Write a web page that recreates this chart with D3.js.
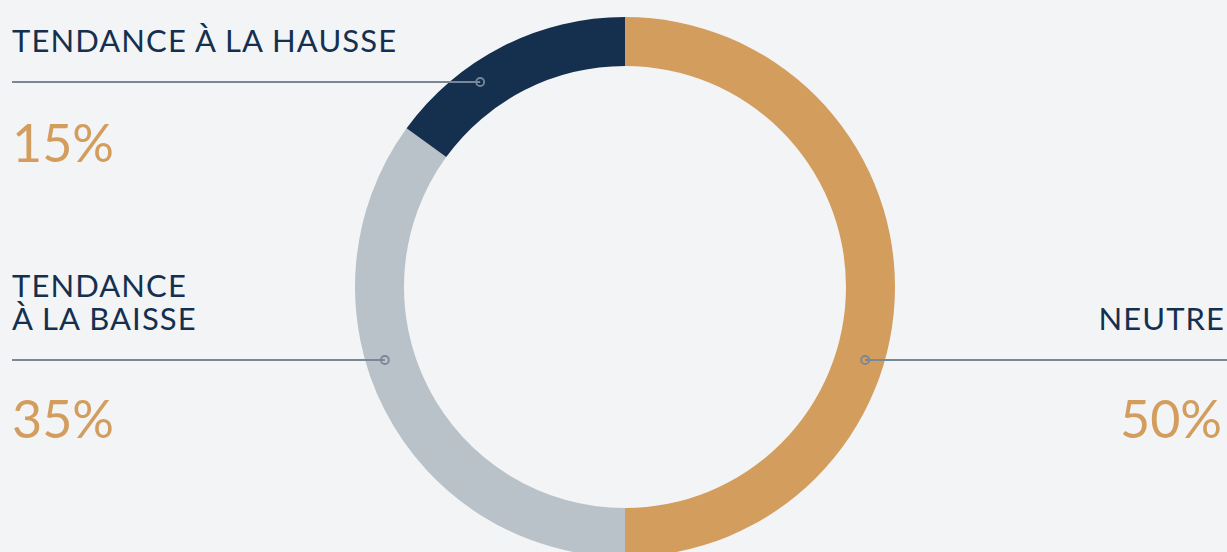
<!DOCTYPE html>
<html>
<head>
<meta charset="utf-8">
<script src="https://cdn.jsdelivr.net/npm/d3@7"></script>
<style>
  html, body { margin: 0; padding: 0; background: #f3f4f6; }
  svg { display: block; }
</style>
</head>
<body>
<div id="chart"></div>
<script>
// data
let categories = ["NEUTRE", "TENDANCE À LA BAISSE", "TENDANCE À LA HAUSSE"]
let values     = [50, 35, 15]
let colors     = ["#d39d5e", "#bac2c9", "#152f4e"]
let labelLines = [["NEUTRE"], ["TENDANCE", "À LA BAISSE"], ["TENDANCE À LA HAUSSE"]]

let width = 1227
let height = 552
let cx = 625, cy = 287
let outerR = 270, innerR = 221

let svg = d3.select("#chart").append("svg")
    .attr("width", width).attr("height", height)

svg.append("rect").attr("width", width).attr("height", height).attr("fill", "#f3f4f6")

let pie = d3.pie().sort(null).value(d => d)
let arc = d3.arc().innerRadius(innerR).outerRadius(outerR)

let g = svg.append("g").attr("transform", "translate(" + cx + "," + cy + ")")
g.selectAll("path")
    .data(pie(values))
    .enter().append("path")
    .attr("d", arc)
    .attr("fill", (d, i) => colors[i])

// annotations: side, leader y, baseline of last title line, percent baseline
let notes = [
    { i: 0, side: "right", lineY: 360, titleY: 330, pctY: 438 },
    { i: 1, side: "left",  lineY: 360, titleY: 330, pctY: 438 },
    { i: 2, side: "left",  lineY: 82,  titleY: 52,  pctY: 162 }
]

let markR = 251
let ls = 1.1
notes.forEach(function (n) {
    let dy = n.lineY - cy
    let dx = Math.sqrt(markR * markR - dy * dy)
    let mx = n.side === "left" ? cx - dx : cx + dx
    let x0 = n.side === "left" ? 12 : width
    let tx = n.side === "left" ? 12 : 1224 + ls
    let anchor = n.side === "left" ? "start" : "end"

    svg.append("line")
        .attr("x1", x0).attr("x2", mx)
        .attr("y1", n.lineY).attr("y2", n.lineY)
        .attr("stroke", "#7a8798").attr("stroke-width", 2)
    svg.append("circle")
        .attr("cx", mx).attr("cy", n.lineY).attr("r", 4)
        .attr("fill", "none").attr("stroke", "#7a8798").attr("stroke-width", 1.8)

    // each title line as its own text so the lines stay separate
    let lines = labelLines[n.i]
    lines.forEach(function (s, k) {
        svg.append("text")
            .attr("x", tx)
            .attr("y", n.titleY - (lines.length - 1 - k) * 33)
            .attr("text-anchor", anchor)
            .attr("font-family", "Lato, sans-serif")
            .attr("font-size", 31)
            .attr("letter-spacing", ls)
            .attr("fill", "#15304f")
            .text(s)
    })

    svg.append("text")
        .attr("x", n.side === "left" ? 12 : 1222)
        .attr("y", n.pctY)
        .attr("text-anchor", anchor)
        .attr("font-family", "Lato, sans-serif")
        .attr("font-weight", 400)
        .attr("font-size", 52)
        .attr("fill", "#d39d5e")
        .text(values[n.i] + "%")
})
</script>
</body>
</html>
